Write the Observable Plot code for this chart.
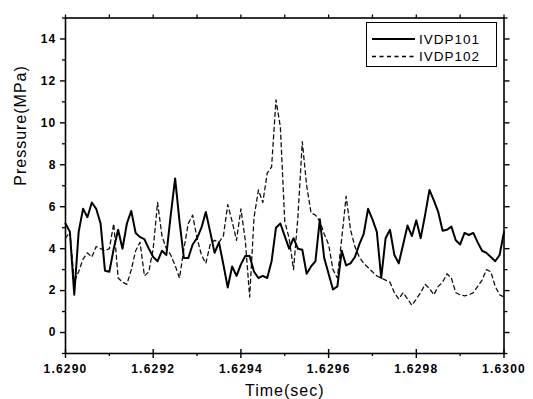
<!DOCTYPE html>
<html>
<head>
<meta charset="utf-8">
<script src="https://cdn.jsdelivr.net/npm/d3@7"></script>
<script src="https://cdn.jsdelivr.net/npm/@observablehq/plot@0.6"></script>
<style>
  html, body { margin: 0; padding: 0; background: #fff; }
  #wrap { position: relative; width: 533px; height: 399px; font-family: "Liberation Sans", Arial, Helvetica, sans-serif; }
  #wrap svg text { letter-spacing: 1px; }
  #wrap g[aria-label$="tick label"] text { font-weight: 700; letter-spacing: 1.2px; }
  #legend { position: absolute; left: 366px; top: 22px; }
  #legend text { letter-spacing: 2.4px; }
</style>
</head>
<body>
<div id="wrap"></div>
<script>
// ---- data ----
const seriesNames = ["IVDP101", "IVDP102"];
const xTitle = "Time(sec)";
const yTitle = "Pressure(MPa)";

const time = [
  1.62900, 1.62901, 1.62902, 1.62903, 1.62904, 1.62905, 1.62906, 1.62907, 1.62908, 1.62909,
  1.62910, 1.62911, 1.62912, 1.62913, 1.62914, 1.62915, 1.62916, 1.62917, 1.62918, 1.62919,
  1.62920, 1.62921, 1.62922, 1.62923, 1.62924, 1.62925, 1.62926, 1.62927, 1.62928, 1.62929,
  1.62930, 1.62931, 1.62932, 1.62933, 1.62934, 1.62935, 1.62936, 1.62937, 1.62938, 1.62939,
  1.62940, 1.62941, 1.62942, 1.62943, 1.62944, 1.62945, 1.62946, 1.62947, 1.62948, 1.62949,
  1.62950, 1.62951, 1.62952, 1.62953, 1.62954, 1.62955, 1.62956, 1.62957, 1.62958, 1.62959,
  1.62960, 1.62961, 1.62962, 1.62963, 1.62964, 1.62965, 1.62966, 1.62967, 1.62968, 1.62969,
  1.62970, 1.62971, 1.62972, 1.62973, 1.62974, 1.62975, 1.62976, 1.62977, 1.62978, 1.62979,
  1.62980, 1.62981, 1.62982, 1.62983, 1.62984, 1.62985, 1.62986, 1.62987, 1.62988, 1.62989,
  1.62990, 1.62991, 1.62992, 1.62993, 1.62994, 1.62995, 1.62996, 1.62997, 1.62998, 1.62999,
  1.63000
];

const ivdp101 = [
  5.2, 4.8, 1.8, 4.8, 5.9, 5.5, 6.2, 5.9, 5.2, 2.95,
  2.9, 4.0, 4.9, 4.0, 5.2, 5.8, 4.75, 4.55, 4.45, 4.0,
  3.6, 3.4, 3.9, 3.7, 5.6, 7.35, 5.3, 3.55, 3.55, 4.2,
  4.5, 5.0, 5.75, 4.8, 3.8, 4.3, 3.25, 2.15, 3.15, 2.7,
  3.25, 3.65, 3.65, 2.9, 2.6, 2.7, 2.6, 3.4, 5.0, 5.2,
  4.6, 4.0, 4.5, 4.0, 3.95, 2.8, 3.15, 3.4, 5.4, 3.55,
  2.8, 2.05, 2.2, 3.9, 3.2, 3.3, 3.6, 4.2, 4.7, 5.9,
  5.4, 4.8, 2.6, 4.5, 4.9, 3.7, 3.3, 4.2, 5.1, 4.6,
  5.35, 4.5, 5.6, 6.8, 6.3, 5.75, 4.85, 4.9, 5.05, 4.4,
  4.2, 4.75, 4.65, 4.75, 4.3, 3.9, 3.8, 3.6, 3.4, 3.7,
  4.8
];

const ivdp102 = [
  4.5, 4.8, 2.4, 2.9, 3.5, 3.8, 3.6, 4.1, 4.0, 3.9,
  4.0, 5.2, 2.6, 2.4, 2.3, 3.0, 3.9, 4.3, 2.7, 2.9,
  4.0, 6.2, 4.6, 4.0, 3.7, 3.2, 2.6, 4.0, 5.2, 5.6,
  4.5, 3.7, 3.3, 4.2, 4.4, 4.3, 4.6, 6.1, 5.3, 4.4,
  5.9, 4.4, 1.7, 5.5, 6.8, 6.2, 7.6, 7.9, 11.1, 9.8,
  5.3, 4.5, 3.0, 5.5, 9.1, 7.0, 5.7, 5.6, 5.3, 4.7,
  4.2, 3.0, 2.6, 4.5, 6.5, 4.9, 4.1, 3.6, 3.3, 3.1,
  2.9, 2.7, 2.6, 2.5, 2.4, 1.9, 1.6, 1.9, 1.6, 1.3,
  1.6, 1.9, 2.3, 2.1, 1.8, 2.2, 2.4, 2.8, 2.6, 1.9,
  1.8, 1.75, 1.8, 1.9, 2.2, 2.5, 3.0, 2.9, 2.2, 1.8,
  1.7
];

const xMajorTicks = [1.6290, 1.6292, 1.6294, 1.6296, 1.6298, 1.6300];
const xMinorTicks = [1.6291, 1.6293, 1.6295, 1.6297, 1.6299];
const yMajorTicks = [0, 2, 4, 6, 8, 10, 12, 14];
const yMinorTicks = [-1, 1, 3, 5, 7, 9, 11, 13, 15];

// ---- build ----
const rows101 = time.map((t, i) => ({t, v: ivdp101[i]}));
const rows102 = time.map((t, i) => ({t, v: ivdp102[i]}));
const noLabel = () => "";

const plot = Plot.plot({
  width: 533,
  height: 399,
  marginLeft: 65,
  marginRight: 29.5,
  marginTop: 17.5,
  marginBottom: 46,
  x: {domain: [1.6290, 1.6300]},
  y: {domain: [-1, 15]},
  style: {fontFamily: '"Liberation Sans", Arial, Helvetica, sans-serif', fontSize: "12px", color: "#000", background: "#fff"},
  marks: [
    // bottom axis
    Plot.axisX(xMajorTicks, {anchor: "bottom", tickSize: 5, tickPadding: 6, tickFormat: d3.format(".4f"), label: null, strokeWidth: 1.4, fontWeight: "bold"}),
    Plot.axisX(xMajorTicks, {anchor: "bottom", tickSize: -4, tickFormat: noLabel, label: null, strokeWidth: 1.4}),
    Plot.axisX(xMinorTicks, {anchor: "bottom", tickSize: 3, tickFormat: noLabel, label: null, strokeWidth: 1.3}),
    // top axis
    Plot.axisX(xMajorTicks.concat(xMinorTicks), {anchor: "top", tickSize: 4, tickFormat: noLabel, label: null, strokeWidth: 1.3}),
    // left axis
    Plot.axisY(yMajorTicks, {anchor: "left", tickSize: 5, tickPadding: 4, tickFormat: d3.format("d"), label: null, strokeWidth: 1.4, fontWeight: "bold"}),
    Plot.axisY(yMinorTicks, {anchor: "left", tickSize: 3, tickFormat: noLabel, label: null, strokeWidth: 1.3}),
    // right axis
    Plot.axisY(yMajorTicks, {anchor: "right", tickSize: 5, tickFormat: noLabel, label: null, strokeWidth: 1.4}),
    Plot.axisY(yMinorTicks, {anchor: "right", tickSize: 3, tickFormat: noLabel, label: null, strokeWidth: 1.3}),
    Plot.frame({stroke: "#000", strokeWidth: 1.6}),
    // series
    Plot.line(rows102, {x: "t", y: "v", stroke: "#111", strokeWidth: 1.3, strokeDasharray: "4,3.5"}),
    Plot.line(rows101, {x: "t", y: "v", stroke: "#000", strokeWidth: 2, strokeLinejoin: "round"}),
    // axis titles
    Plot.text([xTitle], {frameAnchor: "bottom", dy: 42, fontSize: 16, fill: "#000"}),
    Plot.text([yTitle], {frameAnchor: "left", dx: -45, rotate: -90, fontSize: 16, fill: "#000"})
  ]
});

const wrap = document.getElementById("wrap");
wrap.appendChild(plot);

// ---- legend (HTML overlay) ----
const legend = d3.select(wrap).append("svg")
  .attr("id", "legend")
  .attr("width", 131)
  .attr("height", 45)
  .style("font-family", '"Liberation Sans", Arial, Helvetica, sans-serif');
legend.append("rect")
  .attr("x", 0.5).attr("y", 0.5).attr("width", 130).attr("height", 44)
  .attr("fill", "#fff").attr("stroke", "#000").attr("stroke-width", 1);
const dashes = [null, "4,3.5"];
const widths = [2, 1.3];
seriesNames.forEach((name, i) => {
  const cy = 17 + i * 17.5;
  legend.append("line")
    .attr("x1", 6).attr("x2", 49).attr("y1", cy).attr("y2", cy)
    .attr("stroke", "#000").attr("stroke-width", widths[i])
    .attr("stroke-dasharray", dashes[i]);
  legend.append("text")
    .attr("x", 53).attr("y", cy).attr("dy", "0.36em")
    .attr("font-size", 13.5).attr("fill", "#000")
    .text(name);
});
</script>
</body>
</html>
